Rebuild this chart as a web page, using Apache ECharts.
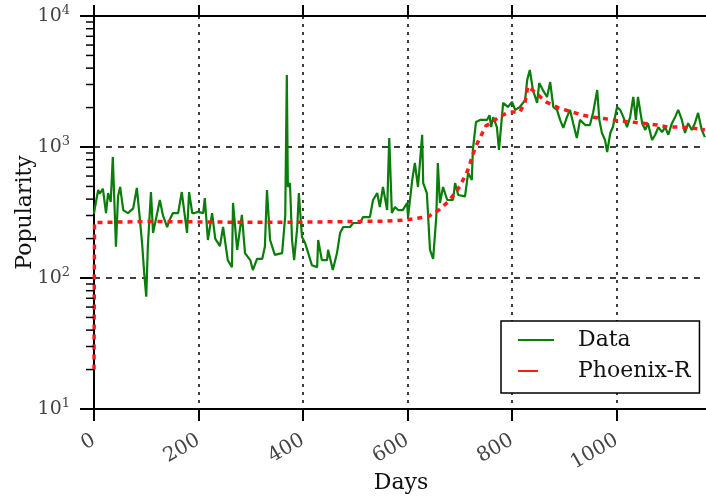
<!DOCTYPE html>
<html>
<head>
<meta charset="utf-8">
<script src="https://cdn.jsdelivr.net/npm/echarts@6/dist/echarts.min.js"></script>
<style>
  html, body { margin: 0; padding: 0; background: #fff; }
  #chart { width: 706px; height: 498px; }
</style>
</head>
<body>
<div id="chart"></div>
<script>
var days = [0, 2, 8, 11, 17, 23, 27, 32, 36, 42, 46, 50, 56, 65, 75, 82, 88, 92, 96, 100, 103, 109, 113, 121, 126, 132, 140, 145, 151, 161, 168, 178, 182, 188, 193,
  199, 209, 212, 218, 226, 232, 241, 247, 256, 264, 266, 274, 283, 289, 299, 304, 312, 322, 327, 331, 337, 346, 360, 366, 369, 371, 375, 379, 383,
  389, 392, 398, 404, 410, 417, 427, 429, 436, 446, 448, 457, 465, 471, 477, 490, 496, 509, 515, 528, 534, 542, 547, 553, 561, 565, 570, 576,
  582, 591, 599, 601, 609, 614, 620, 628, 630, 637, 643, 649, 655, 658, 662, 668, 676, 687, 691, 697, 710, 716, 723, 725, 731, 739, 752, 757, 760, 764, 771, 775,
  783, 792, 800, 806, 815, 825, 829, 834, 840, 848, 852, 859, 867, 873, 879, 886, 892, 898, 905, 911, 917, 924, 930, 940, 949, 955, 963, 967, 972, 978, 982, 988, 993,
  1001, 1007, 1013, 1020, 1026, 1032, 1037, 1041, 1049, 1055, 1060, 1068, 1074, 1080, 1087, 1093, 1099, 1106, 1112, 1118, 1125, 1131, 1137, 1144, 1150, 1156, 1163, 1169];
var popularity = [310, 348, 470, 440, 480, 313, 445, 380, 840, 173, 420, 495, 330, 313, 340, 487, 277, 185, 110, 72, 173, 453, 221, 313, 394, 300, 245, 280, 313, 313, 453, 221, 453, 313, 313,
  320, 313, 408, 195, 313, 200, 175, 245, 137, 121, 374, 164, 303, 155, 137, 115, 140, 140, 173, 470, 195, 150, 155, 300, 3540, 495, 531, 195, 137,
  245, 445, 206, 185, 155, 125, 121, 195, 137, 137, 164, 115, 155, 221, 245, 245, 263, 263, 292, 292, 394, 445, 348, 495, 330, 1170, 313, 348,
  330, 330, 374, 292, 560, 755, 495, 1240, 531, 445, 164, 140, 292, 755, 374, 495, 394, 394, 531, 430, 420, 634, 560, 950, 1550, 1610, 1610, 1750, 1420, 1690, 1420, 950,
  2170, 2020, 2210, 1920, 2020, 2280, 3250, 3870, 2720, 2170, 3080, 2720, 2410, 3130, 2020, 1920, 1610, 1400, 1690, 1920, 1520, 1170, 1610, 1470, 1470, 1820, 2720, 1610, 1280, 1130, 915, 1280, 1420,
  2020, 1920, 1690, 1420, 1690, 2410, 1610, 2410, 1520, 1350, 1520, 1130, 1240, 1420, 1300, 1420, 1240, 1520, 1690, 1920, 1610, 1280, 1520, 1350, 1520, 1820, 1350, 1190];

// Phoenix-R fit
var fitDays = [0, 1, 100, 200, 300, 400, 500, 560, 600, 640, 660, 680, 700, 715, 730, 750, 760, 775, 795, 815, 825, 830, 840, 865, 890, 915, 935, 955, 980, 1005, 1030, 1050, 1078, 1099, 1122, 1144, 1169];
var fitValues = [20, 265, 270, 268, 266, 267, 270, 272, 278, 295, 330, 390, 500, 660, 1000, 1450, 1520, 1700, 1850, 1850, 2200, 2900, 2700, 2210, 1980, 1850, 1750, 1690, 1640, 1580, 1550, 1520, 1470, 1420, 1420, 1400, 1350];

var yDecades = [10, 100, 1000, 10000];

var font = 'DejaVu Serif';

var dataPairs = days.map(function (d, i) { return [d, popularity[i]]; });
var fitPairs = fitDays.map(function (d, i) { return [d, fitValues[i]]; });

// minor log ticks 2..9 per decade
var minorTicks = [];
for (var k = 0; k < yDecades.length - 1; k++) {
  for (var m = 2; m <= 9; m++) minorTicks.push([0, m * yDecades[k]]);
}

var chart = echarts.init(document.getElementById('chart'));

var option = {
  animation: false,
  backgroundColor: '#fff',
  grid: { left: 94, top: 16, width: 614, height: 393, containLabel: false, outerBoundsMode: 'none' },
  xAxis: [{
    type: 'value',
    min: 0, max: 1175, interval: 200,
    name: 'Days',
    nameLocation: 'middle',
    nameGap: 63,
    nameMoveOverlap: false,
    nameTextStyle: { fontFamily: font, fontSize: 22, color: '#111' },
    axisLine: { lineStyle: { color: '#000', width: 2 } },
    axisTick: { length: 12, lineStyle: { color: '#000', width: 2 } },
    axisLabel: {
      rotate: 30, margin: 30, fontFamily: font, fontSize: 20, color: '#444',
      showMaxLabel: false,
      formatter: function (v) { return String(v); }
    },
    splitLine: { show: true, lineStyle: { color: '#000', width: 1.5, type: [3, 5] } }
  }, {
    type: 'value',
    position: 'top',
    min: 0, max: 1175, interval: 200,
    axisLine: { onZero: false, lineStyle: { color: '#000', width: 2 } },
    axisTick: { length: 11, lineStyle: { color: '#000', width: 2 } },
    axisLabel: { show: false },
    splitLine: { show: false }
  }],
  yAxis: {
    type: 'log',
    logBase: 10,
    min: 10, max: 10000,
    name: 'Popularity',
    nameLocation: 'middle',
    nameGap: 58,
    nameMoveOverlap: false,
    nameTextStyle: { fontFamily: font, fontSize: 22, color: '#111' },
    axisLine: { lineStyle: { color: '#000', width: 2 } },
    axisTick: { length: 14, lineStyle: { color: '#000', width: 2 } },
    axisLabel: {
      margin: 24,
      color: '#444',
      formatter: function (v) {
        return '{b|10}{s|' + Math.round(Math.log10(v)) + '}';
      },
      rich: {
        b: { fontFamily: font, fontSize: 19, lineHeight: 24, color: '#444' },
        s: { fontFamily: font, fontSize: 13, lineHeight: 13, verticalAlign: 'top', color: '#444' }
      }
    },
    splitLine: { show: true, lineStyle: { color: '#000', width: 1.5, type: [6, 6] } }
  },
  legend: {
    left: 501,
    top: 321,
    orient: 'vertical',
    backgroundColor: '#fff',
    borderColor: '#000',
    borderWidth: 1.5,
    padding: [8, 9, 11, 16],
    itemWidth: 36,
    itemHeight: 24,
    itemGap: 9,
    itemStyle: { opacity: 0 },
    formatter: function (name) { return '{t|' + name + '}'; },
    textStyle: {
      color: '#111',
      rich: { t: { fontFamily: font, fontSize: 22, color: '#111', padding: [0, 0, 0, 19] } }
    },
    data: [
      { name: 'Data', lineStyle: { width: 2 } },
      { name: 'Phoenix-R', lineStyle: { width: 2, type: [20, 40] } }
    ]
  },
  series: [{
    name: 'Data',
    type: 'line',
    data: dataPairs,
    showSymbol: false,
    symbol: 'none',
    lineStyle: { color: '#0a7d0a', width: 2.2 },
    itemStyle: { color: '#0a7d0a' },
    z: 3
  }, {
    name: 'Phoenix-R',
    type: 'line',
    data: fitPairs,
    showSymbol: false,
    symbol: 'none',
    lineStyle: { color: '#ff1a1a', width: 3.5, type: [5, 5] },
    itemStyle: { color: '#ff1a1a' },
    z: 4
  }, {
    name: 'minor',
    type: 'custom',
    data: minorTicks,
    clip: false,
    silent: true,
    renderItem: function (params, api) {
      var p = api.coord([api.value(0), api.value(1)]);
      return {
        type: 'line',
        shape: { x1: p[0] - 8, y1: p[1], x2: p[0], y2: p[1] },
        style: { stroke: '#000', lineWidth: 1.5 }
      };
    },
    z: 5
  }]
};

chart.setOption(option);
</script>
</body>
</html>
